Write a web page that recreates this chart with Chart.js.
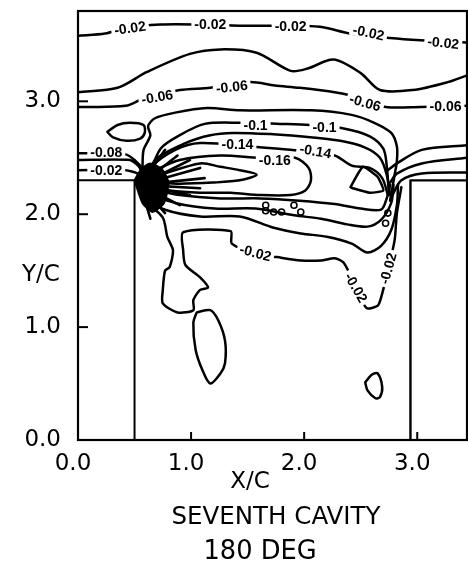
<!DOCTYPE html>
<html>
<head>
<meta charset="utf-8">
<script src="https://cdn.jsdelivr.net/npm/chart.js@4.4.1/dist/chart.umd.min.js"></script>
<style>
  html, body { margin: 0; padding: 0; background: #fff; }
  canvas { display: block; }
</style>
</head>
<body>
<canvas id="cavity" width="468" height="568"></canvas>
<script>
// axis ticks
const xTicks = [0, 1, 2, 3];
const yTicks = [0, 1, 2, 3];

// cavity walls (X/C, Y/C)
const leftWall = [[0, 2.3], [0.5, 2.3], [0.5, 0]];
const rightWall = [[2.94, 0], [2.94, 2.3], [3.44, 2.3]];

// contour lines, [X/C, Y/C]
const c002top = [[0,3.58],[0.24,3.60],[0.42,3.65],[0.73,3.68],[1.08,3.68],[1.43,3.67],[1.79,3.67],[2.14,3.66],[2.41,3.60],[2.76,3.56],[3.03,3.54],[3.44,3.52]];
const c004 = [[0,3.08],[0.35,3.12],[0.61,3.26],[0.99,3.42],[1.26,3.46],[1.58,3.43],[1.88,3.27],[2.03,3.29],[2.26,3.37],[2.50,3.25],[2.67,3.10],[2.96,3.10],[3.27,3.17],[3.44,3.23]];
const c006 = [[0,2.95],[0.42,2.96],[0.59,3.03],[0.90,3.10],[1.17,3.12],[1.52,3.17],[1.74,3.14],[1.96,3.12],[2.27,3.08],[2.50,3.03],[2.72,2.95],[3.03,2.95],[3.44,2.96]];
const c008 = [[0.57,2.42],[0.58,2.57],[0.64,2.70],[0.62,2.78],[0.68,2.85],[0.86,2.90],[1.14,2.94],[1.43,2.92],[2.06,2.92],[2.42,2.88],[2.62,2.81],[2.77,2.72],[2.82,2.60],[2.82,2.47],[2.80,2.35],[2.76,2.12]];
const c010 = [[0.62,2.32],[0.73,2.58],[0.90,2.70],[1.12,2.80],[1.43,2.81],[1.79,2.80],[2.05,2.79],[2.35,2.76],[2.58,2.69],[2.70,2.58],[2.73,2.43],[2.75,2.17]];
const c012 = [[0.62,2.30],[0.68,2.48],[0.95,2.63],[1.17,2.70],[1.37,2.72],[1.70,2.71],[1.96,2.69],[2.32,2.65],[2.54,2.59],[2.67,2.50],[2.73,2.35],[2.76,2.17]];
const c014 = [[0.61,2.29],[0.64,2.41],[0.86,2.57],[1.08,2.63],[1.52,2.60],[1.88,2.57],[2.27,2.52],[2.42,2.43],[2.58,2.41],[2.69,2.32],[2.74,2.17]];
const c016 = [[0.64,2.37],[0.90,2.48],[1.26,2.52],[1.61,2.50],[1.92,2.50],[2.04,2.41],[2.06,2.30],[2.01,2.21],[1.88,2.17],[1.61,2.17],[1.35,2.19],[1.08,2.19],[0.81,2.21],[0.62,2.25]];
const c018 = [[0.73,2.35],[1.08,2.45],[1.26,2.42],[1.43,2.39],[1.58,2.35],[1.43,2.30],[1.19,2.28],[0.90,2.27],[0.68,2.28]];
const topOval = [[0.26,2.73],[0.35,2.79],[0.46,2.81],[0.58,2.79],[0.59,2.72],[0.55,2.67],[0.43,2.65],[0.31,2.68],[0.26,2.73]];
const triangleLoop = [[2.41,2.24],[2.52,2.42],[2.65,2.33],[2.70,2.21],[2.58,2.19],[2.43,2.23],[2.41,2.24]];
const lowerA = [[0.62,2.23],[0.90,2.17],[1.26,2.14],[1.61,2.14],[1.96,2.12],[2.27,2.09],[2.50,2.05],[2.68,2.04],[2.73,2.14],[2.76,2.26]];
const lowerB = [[0.60,2.19],[0.86,2.10],[1.21,2.05],[1.57,2.05],[1.91,1.99],[2.15,1.96],[2.38,1.91],[2.56,1.89],[2.68,1.95],[2.77,2.10],[2.79,2.26]];
const lowerC = [[0.58,2.15],[0.77,2.04],[1.08,1.98],[1.43,1.98],[1.73,1.88],[1.97,1.83],[2.20,1.80],[2.42,1.74],[2.56,1.66],[2.68,1.72],[2.77,1.86],[2.82,2.08],[2.83,2.26]];
const c002low = [[0.59,2.12],[0.75,1.97],[0.79,1.80],[0.84,1.68],[0.81,1.53],[0.77,1.50],[0.75,1.33],[0.75,1.21],[0.88,1.13],[1.02,1.15],[1.02,1.24],[1.08,1.33],[1.15,1.35],[1.08,1.44],[0.95,1.55],[0.93,1.68],[0.93,1.84],[1.35,1.85],[1.36,1.74],[1.57,1.65],[1.76,1.62],[1.97,1.59],[2.15,1.59],[2.27,1.61],[2.35,1.57],[2.45,1.37],[2.55,1.17],[2.65,1.19],[2.68,1.26],[2.74,1.50],[2.80,1.77],[2.82,2.01],[2.86,2.24]];
const lowOval = [[1.05,1.13],[1.17,1.15],[1.24,1.06],[1.30,0.88],[1.30,0.68],[1.26,0.59],[1.17,0.50],[1.10,0.62],[1.04,0.80],[1.02,1.04],[1.05,1.13]];
const smallOval = [[2.54,0.51],[2.60,0.58],[2.65,0.59],[2.69,0.47],[2.67,0.38],[2.63,0.37],[2.56,0.44],[2.54,0.51]];
const overTooth1 = [[2.74,2.39],[2.82,2.45],[3.04,2.57],[3.44,2.61]];
const overTooth2 = [[2.76,2.28],[2.82,2.36],[3.04,2.45],[3.44,2.50]];
const overTooth3 = [[2.78,2.17],[2.86,2.30],[3.04,2.36],[3.44,2.37]];
const leftC008 = [[0,2.54],[0.42,2.53],[0.50,2.48],[0.57,2.40],[0.60,2.30]];
const leftMid = [[0,2.48],[0.46,2.48],[0.54,2.42],[0.60,2.30]];
const leftC002 = [[0,2.39],[0.42,2.39],[0.53,2.36],[0.60,2.28]];
const core = [[0.50,2.30],[0.56,2.40],[0.64,2.45],[0.74,2.40],[0.80,2.28],[0.76,2.10],[0.66,2.02],[0.57,2.10],[0.50,2.30]];
const fanFocus = [0.55, 2.26];
const fanEnds = [[0.77,2.57],[0.88,2.52],[0.99,2.48],[1.08,2.41],[1.12,2.32],[1.08,2.23],[0.99,2.17],[0.90,2.08],[0.77,2.01],[0.64,1.96]];
const ringMarks = [[1.66,2.08],[1.91,2.08],[1.66,2.03],[1.73,2.02],[1.80,2.02],[1.97,2.02],[2.74,2.01],[2.72,1.92]];

// contour labels: text, X/C, Y/C, angle (deg)
const labelText = ['-0.02','-0.02','-0.02','-0.02','-0.02','-0.06','-0.06','-0.06','-0.06','-0.1','-0.1','-0.14','-0.14','-0.16','-0.08','-0.02','-0.02','-0.02','-0.02'];
const labelX = [0.46,1.17,1.88,2.57,3.23,0.70,1.36,2.54,3.25,1.57,2.18,1.41,2.10,1.74,0.25,0.25,1.57,2.46,2.74];
const labelY = [3.65,3.68,3.67,3.61,3.52,3.04,3.13,2.99,2.96,2.79,2.77,2.62,2.56,2.48,2.55,2.39,1.66,1.35,1.52];
const labelAngle = [-8,0,0,12,6,-10,-6,16,0,0,0,0,10,0,0,0,15,60,-75];

const pts = arr => arr.map(p => ({ x: p[0], y: p[1] }));
function contour(arr, width, tension) {
    return {
        data: pts(arr),
        showLine: true,
        borderColor: '#000',
        borderWidth: width || 2.5,
        borderCapStyle: 'round',
        borderJoinStyle: 'round',
        pointRadius: 0,
        tension: tension === undefined ? 0.3 : tension,
        fill: false
    };
}

const datasets = [
    contour(leftWall, 2, 0),
    contour(rightWall, 2.4, 0),
    contour(c002top), contour(c004), contour(c006), contour(c008),
    contour(c010), contour(c012), contour(c014), contour(c016), contour(c018),
    contour(topOval), contour(triangleLoop, 2.5, 0.15),
    contour(lowerA), contour(lowerB), contour(lowerC),
    contour(c002low, 2.5, 0.25), contour(lowOval), contour(smallOval),
    contour(overTooth1), contour(overTooth2), contour(overTooth3),
    contour(leftC008, 2.5, 0.2), contour(leftMid, 2.5, 0.2), contour(leftC002, 2.5, 0.2)
];
// dark fan at the upstream corner
const coreSet = contour(core, 2, 0.2);
coreSet.fill = 'shape';
coreSet.backgroundColor = '#000';
datasets.push(coreSet);
fanEnds.forEach(e => datasets.push(contour([fanFocus, e], 2.6, 0)));
datasets.push({
    data: pts(ringMarks),
    pointRadius: 3,
    pointBorderWidth: 1.6,
    pointBackgroundColor: '#fff',
    pointBorderColor: '#000',
    showLine: false
});

const decorPlugin = {
    id: 'decor',
    afterDatasetsDraw(chart) {
        const { ctx, chartArea: a, scales: { x, y } } = chart;
        ctx.save();
        // contour labels
        ctx.font = 'bold 14px "Liberation Sans"';
        ctx.textAlign = 'center';
        ctx.textBaseline = 'middle';
        labelText.forEach((t, i) => {
            const px = x.getPixelForValue(labelX[i]);
            const py = y.getPixelForValue(labelY[i]);
            const w = ctx.measureText(t).width;
            ctx.save();
            ctx.translate(px, py);
            ctx.rotate(labelAngle[i] * Math.PI / 180);
            ctx.fillStyle = '#fff';
            ctx.fillRect(-w / 2 - 3, -6, w + 6, 12);
            ctx.fillStyle = '#000';
            ctx.fillText(t, 0, 1);
            ctx.restore();
        });
        // frame
        ctx.strokeStyle = '#000';
        ctx.lineWidth = 2.2;
        ctx.strokeRect(a.left, a.top, a.right - a.left, a.bottom - a.top);
        // inward tick marks
        ctx.lineWidth = 2;
        xTicks.forEach(v => {
            const px = x.getPixelForValue(v);
            ctx.beginPath(); ctx.moveTo(px, a.bottom); ctx.lineTo(px, a.bottom - 8); ctx.stroke();
        });
        yTicks.forEach(v => {
            const py = y.getPixelForValue(v);
            ctx.beginPath(); ctx.moveTo(a.left, py); ctx.lineTo(a.left + 10, py); ctx.stroke();
        });
        ctx.restore();
    },
    afterDraw(chart) {
        const { ctx, chartArea: a, scales: { y } } = chart;
        ctx.save();
        ctx.fillStyle = '#000';
        ctx.textAlign = 'center';
        ctx.textBaseline = 'middle';
        ctx.font = '23px "DejaVu Sans"';
        ctx.fillText('Y/C', a.left - 37, y.getPixelForValue(1.46));
        ctx.fillText('X/C', 250, 482);
        function fitText(t, cx, cy, width) {
            ctx.font = '23px "DejaVu Sans"';
            const s = 23 * width / ctx.measureText(t).width;
            ctx.font = s.toFixed(1) + 'px "DejaVu Sans"';
            ctx.fillText(t, cx, cy);
        }
        fitText('SEVENTH CAVITY', 276, 518, 209);
        fitText('180 DEG', 260, 552, 113);
        ctx.restore();
    }
};

new Chart(document.getElementById('cavity'), {
    type: 'scatter',
    data: { datasets: datasets },
    options: {
        responsive: false,
        animation: false,
        layout: { autoPadding: false, padding: { top: 11, right: 1, bottom: 0, left: 0 } },
        plugins: { legend: { display: false }, tooltip: { enabled: false } },
        scales: {
            x: {
                type: 'linear', min: 0, max: 3.44,
                afterBuildTicks: s => { s.ticks = xTicks.map(v => ({ value: v })); },
                afterFit: s => { s.height = 128; s.paddingLeft = 0; s.paddingRight = 0; },
                grid: { display: false, drawTicks: false },
                border: { display: false },
                ticks: {
                    color: '#000', padding: 10, labelOffset: -5, maxRotation: 0, autoSkip: false,
                    font: { family: 'DejaVu Sans', size: 23 },
                    callback: v => Number(v).toFixed(1)
                }
            },
            y: {
                type: 'linear', min: 0, max: 3.8,
                afterBuildTicks: s => { s.ticks = yTicks.map(v => ({ value: v })); },
                afterFit: s => { s.width = 78; s.paddingTop = 0; s.paddingBottom = 0; },
                grid: { display: false, drawTicks: false },
                border: { display: false },
                ticks: {
                    color: '#000', padding: 17, autoSkip: false,
                    font: { family: 'DejaVu Sans', size: 23 },
                    callback: v => Number(v).toFixed(1)
                }
            }
        }
    },
    plugins: [decorPlugin]
});
</script>
</body>
</html>
